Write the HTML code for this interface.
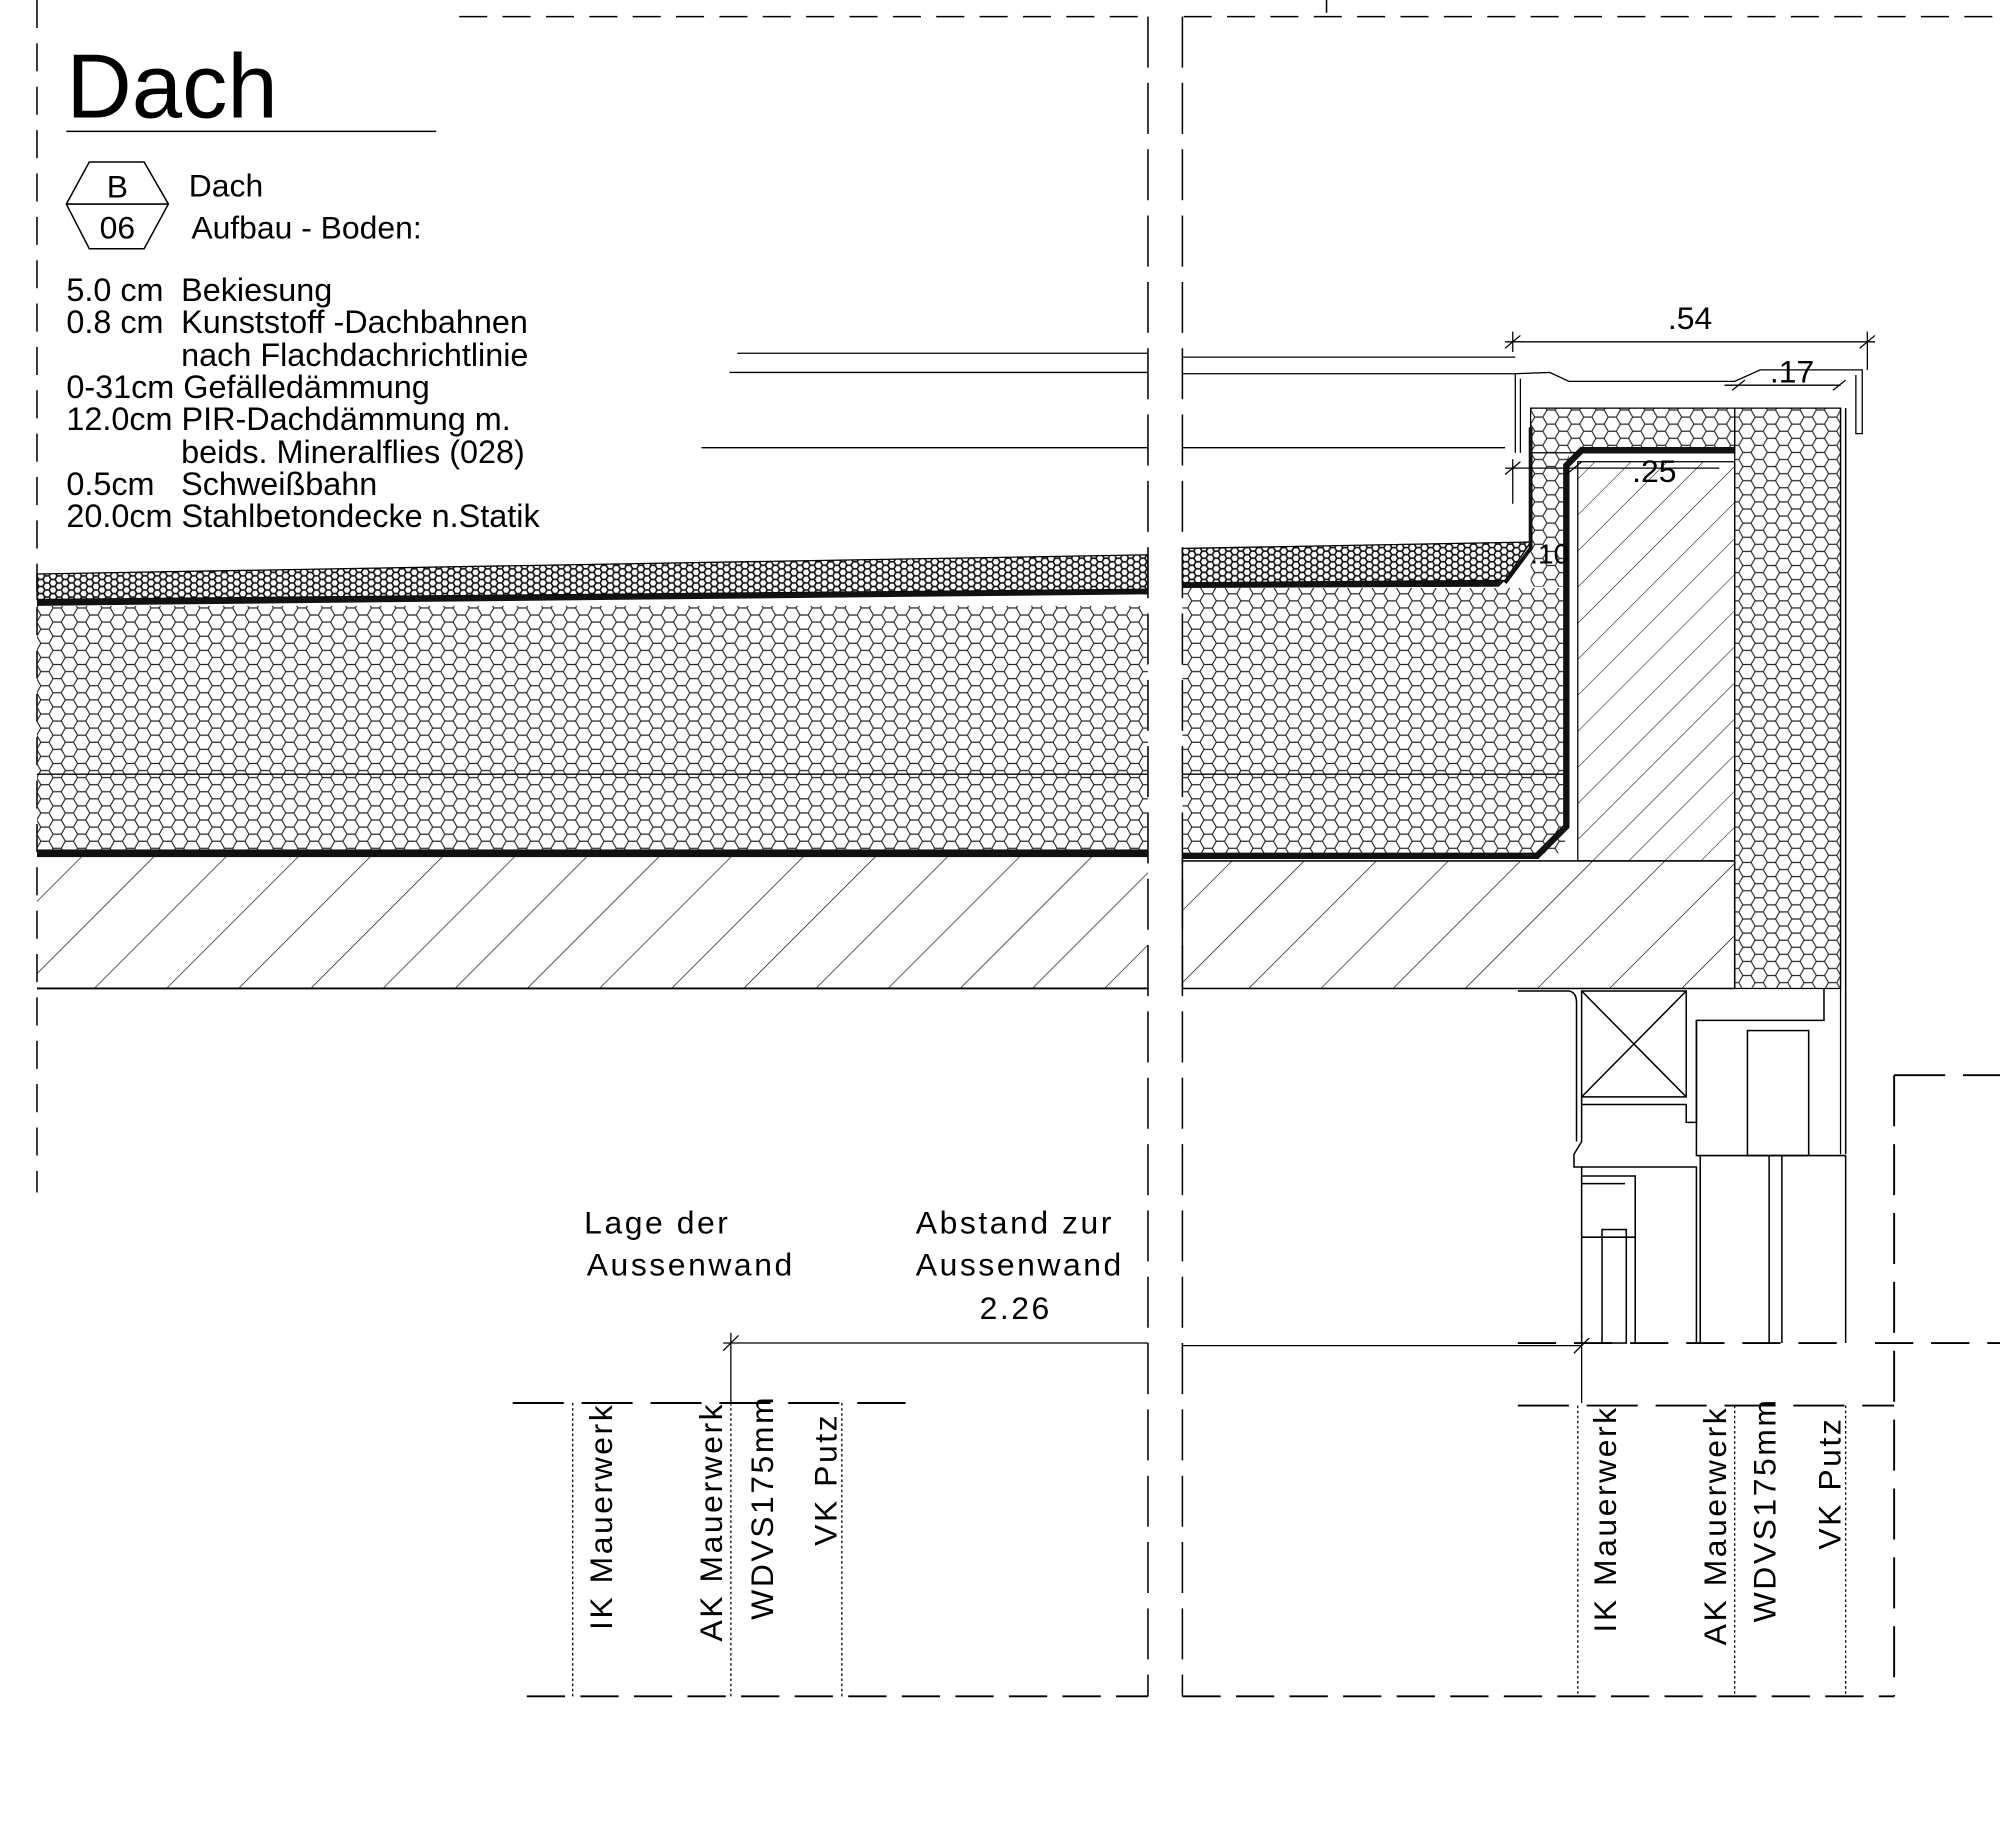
<!DOCTYPE html>
<html><head><meta charset="utf-8"><style>
html,body{margin:0;padding:0;background:#fff;}
svg{display:block;}
text{font-family:"Liberation Sans",sans-serif;fill:#000;}
</style></head><body>
<svg width="2000" height="1823" viewBox="0 0 1568 1429.3" preserveAspectRatio="none" xmlns="http://www.w3.org/2000/svg">
<defs>
<pattern id="hex" width="19.2" height="11.085" patternUnits="userSpaceOnUse">
<path d="M0,5.54 L3.2,0 L9.6,0 L12.8,5.54 L9.6,11.085 L3.2,11.085 Z M12.8,5.54 L19.2,5.54" fill="none" stroke="#222" stroke-width="0.9"/>
</pattern>
<pattern id="grav" width="9.6" height="5.54" patternUnits="userSpaceOnUse">
<path d="M0,2.77 L1.6,0 L4.8,0 L6.4,2.77 L4.8,5.54 L1.6,5.54 Z M6.4,2.77 L9.6,2.77" fill="none" stroke="#111" stroke-width="1.3"/>
</pattern>
<pattern id="hatch" width="40" height="40" patternUnits="userSpaceOnUse" patternTransform="rotate(45)">
<line x1="0" y1="0" x2="0" y2="40" stroke="#000" stroke-width="1"/>
</pattern>
<pattern id="hatch2" width="20" height="20" patternUnits="userSpaceOnUse" patternTransform="rotate(45)">
<line x1="0" y1="0" x2="0" y2="20" stroke="#000" stroke-width="0.8"/>
</pattern>
</defs>
<g fill="none" stroke="#000" stroke-width="1.2">
<line x1="29" y1="0" x2="29" y2="935" stroke-dasharray="22,12"/>
<line x1="360" y1="13" x2="900" y2="13" stroke-dasharray="22,12"/>
<line x1="928" y1="13" x2="1568" y2="13" stroke-dasharray="22,12"/>
<line x1="900" y1="13" x2="900" y2="1330" stroke-dasharray="40,12"/>
<line x1="927" y1="13" x2="927" y2="1330" stroke-dasharray="40,12"/>
<line x1="1040" y1="0" x2="1040" y2="10"/>
</g>
<text x="52" y="92" font-size="71">Dach</text>
<line x1="52" y1="103" x2="342" y2="103" stroke="#000" stroke-width="1.2"/>
<path d="M52,160 L70,127 L113,127 L132,160 L113,195 L70,195 Z M52,160 L132,160" fill="none" stroke="#000" stroke-width="1.2"/>
<text x="92" y="155" font-size="25" text-anchor="middle">B</text>
<text x="92" y="187" font-size="25" text-anchor="middle">06</text>
<text x="148" y="154" font-size="25">Dach</text>
<text x="150" y="187" font-size="25">Aufbau - Boden:</text>
<g font-size="25.4">
<text x="52" y="236">5.0 cm</text><text x="142" y="236">Bekiesung</text>
<text x="52" y="261">0.8 cm</text><text x="142" y="261">Kunststoff -Dachbahnen</text>
<text x="142" y="287">nach Flachdachrichtlinie</text>
<text x="52" y="312">0-31cm Gefälledämmung</text>
<text x="52" y="337">12.0cm PIR-Dachdämmung m.</text>
<text x="142" y="363">beids. Mineralflies (028)</text>
<text x="52" y="388">0.5cm</text><text x="142" y="388">Schweißbahn</text>
<text x="52" y="413">20.0cm Stahlbetondecke n.Statik</text>
</g>
<polygon points="29,450 900,435 900,462 29,470" fill="url(#grav)" stroke="#000" stroke-width="1"/>
<polygon points="29,470 900,462 900,466 29,475" fill="#111"/>
<rect x="29" y="475" width="871" height="192" fill="url(#hex)" stroke="none"/>
<line x1="29" y1="607" x2="900" y2="607" stroke="#000" stroke-width="1"/>
<rect x="29" y="666" width="871" height="6" fill="#111"/>
<rect x="29" y="672" width="871" height="103" fill="url(#hatch)" stroke="none"/>
<line x1="29" y1="775" x2="900" y2="775" stroke="#000" stroke-width="1.5"/>
<polygon points="927,430 1200,425 1180,455 927,457" fill="url(#grav)" stroke="#000" stroke-width="1"/>
<polygon points="927,457 1180,455 1175,460 927,461" fill="#111"/>
<rect x="927" y="461" width="300" height="208" fill="url(#hex)"/>
<line x1="927" y1="607" x2="1228" y2="607" stroke="#000" stroke-width="1"/>
<rect x="1200" y="320" width="160" height="35" fill="url(#hex)" stroke="#000" stroke-width="1"/>
<rect x="1200" y="355" width="30" height="105" fill="url(#hex)"/>
<rect x="1237" y="362" width="123" height="313" fill="url(#hatch2)" stroke="#000" stroke-width="1"/>
<rect x="1360" y="320" width="83" height="455" fill="url(#hex)" stroke="#000" stroke-width="1"/>
<line x1="1447" y1="320" x2="1447" y2="905" stroke="#000" stroke-width="1.2"/>
<line x1="1443" y1="320" x2="1443" y2="905" stroke="#000" stroke-width="1"/>
<path d="M927,671 L1205,671 L1228,648 L1228,365 L1240,353 L1360,353" fill="none" stroke="#111" stroke-width="5"/>
<path d="M1180,457 L1200,430 L1200,335" fill="none" stroke="#111" stroke-width="3"/>
<rect x="927" y="675" width="433" height="100" fill="url(#hatch)" stroke="#000" stroke-width="1.2"/>
<path d="M1188,355 L1188,293 L1215,292 L1230,299 L1360,299 L1380,290 L1460,290 L1460,340 L1455,340 L1455,294 M1192,355 L1192,297" fill="none" stroke="#000" stroke-width="1"/>
<g stroke="#000" stroke-width="1">
<line x1="578" y1="277" x2="900" y2="277"/><line x1="927" y1="280" x2="1188" y2="280"/>
<line x1="572" y1="292" x2="900" y2="292"/><line x1="927" y1="293" x2="1188" y2="293"/>
<line x1="550" y1="351" x2="900" y2="351"/><line x1="927" y1="351" x2="1180" y2="351"/>
<line x1="1180" y1="268" x2="1470" y2="268"/>
<line x1="1186" y1="260" x2="1186" y2="276"/><line x1="1464" y1="260" x2="1464" y2="290"/>
<line x1="1180" y1="273" x2="1192" y2="263"/><line x1="1458" y1="273" x2="1470" y2="263"/>
<line x1="1352" y1="302" x2="1443" y2="302"/>
<line x1="1358" y1="306" x2="1368" y2="298"/><line x1="1437" y1="306" x2="1447" y2="298"/>
<line x1="1180" y1="367" x2="1348" y2="367"/>
<line x1="1186" y1="360" x2="1186" y2="395"/>
<line x1="1180" y1="372" x2="1192" y2="362"/><line x1="1228" y1="372" x2="1240" y2="362"/>
</g>
<text x="1325" y="258" font-size="25" text-anchor="middle" fill="#444">.54</text>
<text x="1405" y="300" font-size="25" text-anchor="middle" fill="#444">.17</text>
<text x="1297" y="378" font-size="25" text-anchor="middle" fill="#555">.25</text>
<text x="1215" y="442" font-size="22" text-anchor="middle" fill="#555">.10</text>
<g fill="none" stroke="#000" stroke-width="1.2">
<path d="M1190,777 L1230,777 Q1236,778 1236,786 L1236,895"/>
<rect x="1240" y="777" width="82" height="83"/>
<line x1="1240" y1="777" x2="1322" y2="860"/><line x1="1322" y1="777" x2="1240" y2="860"/>
<path d="M1240,860 L1240,866 L1322,866 L1322,880 L1330,880 L1330,800 L1430,800 L1430,775"/>
<path d="M1330,800 L1330,906 L1447,906"/>
<rect x="1370" y="808" width="48" height="98"/>
<path d="M1240,866 L1240,895 L1234,905 L1234,915 L1240,915 L1240,1053"/>
<path d="M1240,915 L1330,915 L1330,1053 M1240,922 L1282,922 L1282,1053 M1240,928 L1274,928"/>
<rect x="1256" y="964" width="19" height="89"/>
<line x1="1240" y1="970" x2="1282" y2="970"/>
<line x1="1333" y1="906" x2="1333" y2="1053"/>
<line x1="1387" y1="906" x2="1387" y2="1053"/><line x1="1397" y1="906" x2="1397" y2="1053"/>
<line x1="1447" y1="906" x2="1447" y2="1053"/>
</g>
<g fill="none" stroke="#000" stroke-width="1.5">
<line x1="1190" y1="1053" x2="1450" y2="1053" stroke-dasharray="30,14"/>
<line x1="1470" y1="1053" x2="1568" y2="1053" stroke-dasharray="30,14"/>
<line x1="402" y1="1100" x2="710" y2="1100" stroke-dasharray="40,14"/>
<line x1="1190" y1="1102" x2="1485" y2="1102" stroke-dasharray="40,14"/>
<line x1="1485" y1="843" x2="1568" y2="843" stroke-dasharray="40,14"/>
<line x1="1485" y1="843" x2="1485" y2="1330" stroke-dasharray="40,14"/>
<line x1="413" y1="1330" x2="900" y2="1330" stroke-dasharray="30,12"/>
<line x1="927" y1="1330" x2="1485" y2="1330" stroke-dasharray="30,12"/>
</g>
<g fill="none" stroke="#000" stroke-width="1" stroke-dasharray="2,2">
<line x1="449" y1="1100" x2="449" y2="1330"/><line x1="573" y1="1100" x2="573" y2="1330"/><line x1="660" y1="1100" x2="660" y2="1330"/>
<line x1="1237" y1="1102" x2="1237" y2="1330"/><line x1="1360" y1="1102" x2="1360" y2="1330"/><line x1="1447" y1="1102" x2="1447" y2="1330"/>
</g>
<g stroke="#000" stroke-width="1">
<line x1="567" y1="1053" x2="900" y2="1053"/><line x1="927" y1="1055" x2="1240" y2="1055"/>
<line x1="573" y1="1045" x2="573" y2="1100"/><line x1="1240" y1="1045" x2="1240" y2="1100"/>
<line x1="567" y1="1059" x2="579" y2="1047"/><line x1="1234" y1="1061" x2="1246" y2="1049"/>
</g>
<g font-size="25" fill="#333" letter-spacing="2">
<text x="458" y="967">Lage der</text>
<text x="460" y="1000">Aussenwand</text>
<text x="718" y="967">Abstand zur</text>
<text x="718" y="1000">Aussenwand</text>
<text x="768" y="1034">2.26</text>
</g>
<g font-size="25" fill="#333" letter-spacing="2">
<text transform="translate(480,1278) rotate(-90)">IK Mauerwerk</text>
<text transform="translate(566,1287) rotate(-90)">AK Mauerwerk</text>
<text transform="translate(606,1270) rotate(-90)">WDVS175mm</text>
<text transform="translate(656,1212) rotate(-90)">VK Putz</text>
<text transform="translate(1267,1280) rotate(-90)">IK Mauerwerk</text>
<text transform="translate(1353,1290) rotate(-90)">AK Mauerwerk</text>
<text transform="translate(1392,1272) rotate(-90)">WDVS175mm</text>
<text transform="translate(1443,1215) rotate(-90)">VK Putz</text>
</g>
</svg>
</body></html>
